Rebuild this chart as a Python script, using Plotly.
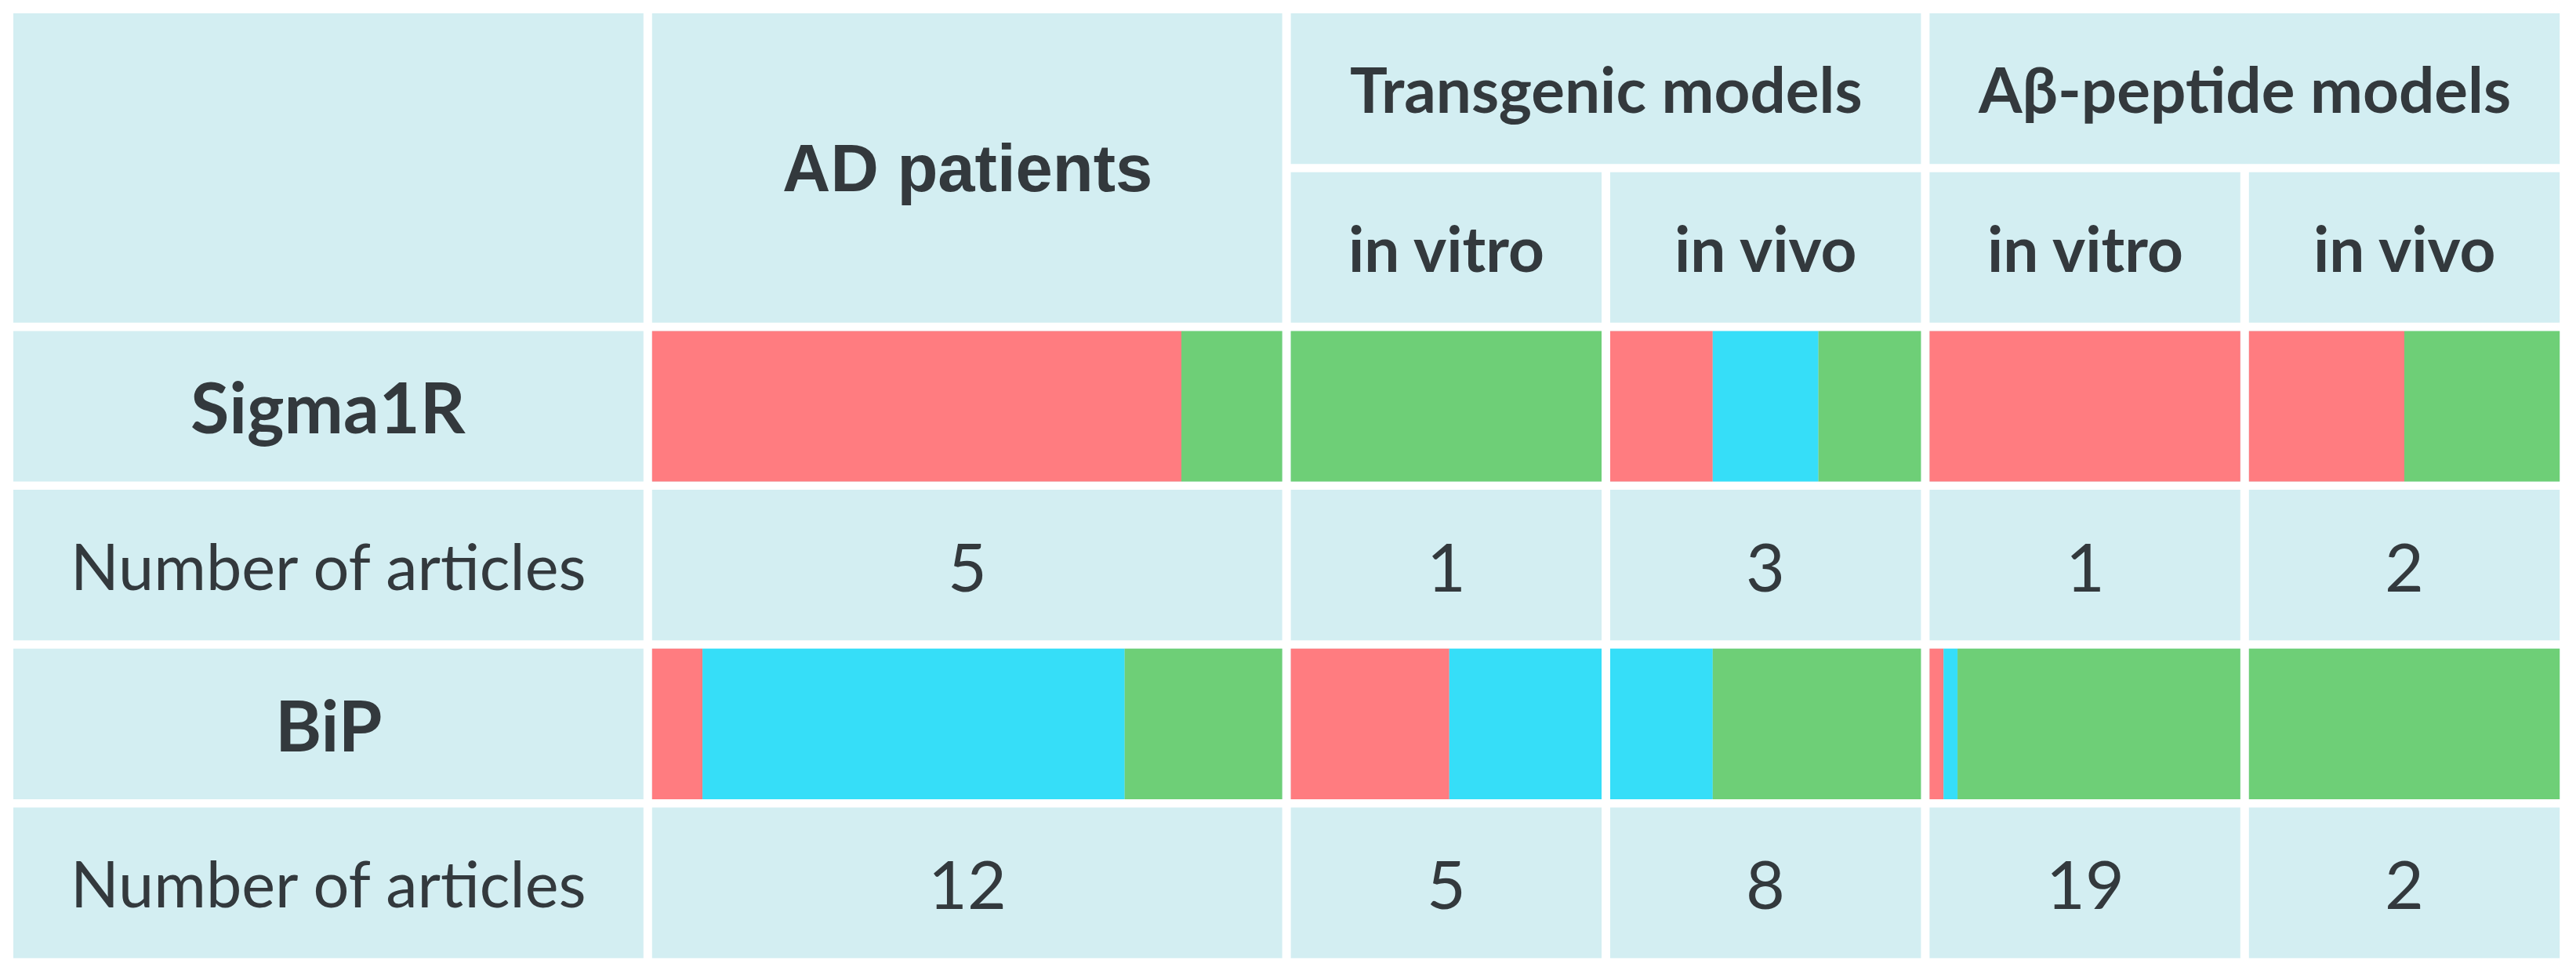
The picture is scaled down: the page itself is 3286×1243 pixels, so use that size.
import plotly.graph_objects as go

# ---------------- data ----------------
sub_columns = ["AD patients", "in vitro", "in vivo", "in vitro", "in vivo"]
model_groups = ["Transgenic models", "Aβ-peptide models"]
proteins = ["Sigma1R", "BiP"]
count_label = "Number of articles"

# share of findings per column (percent): decreased / unchanged / increased
sigma_red = [84, 0, 33, 100, 50]
sigma_blue = [0, 0, 34, 0, 0]
sigma_green = [16, 100, 33, 0, 50]
bip_red = [8, 51, 0, 4.5, 0]
bip_blue = [67, 49, 33, 4.5, 0]
bip_green = [25, 0, 67, 91, 100]

sigma_articles = [5, 1, 3, 1, 2]
bip_articles = [12, 5, 8, 19, 2]

# ---------------- layout / style ----------------
W, H = 3286, 1243
X0, UX, GX = 17, 407.4, 0.027      # grid origin, unit, gap (units)
Y0, UY, GY = 17, 202.7, 0.052

CELL = "#D3EEF2"
RED = "#FF7C80"
BLUE = "#36DEF8"
GREEN = "#6ECF77"
TXT = "#33393D"

col_start = [2, 4, 5, 6, 7]
col_span = [2, 1, 1, 1, 1]


def cx(c0, span):
    return c0 + (span - GX) / 2


def cy(r0, span):
    return r0 + (span - GY) / 2


# background cells (col0, colspan, row0, rowspan)
cells = [(0, 2, 0, 2), (2, 2, 0, 2), (4, 2, 0, 1), (6, 2, 0, 1)]
cells += [(c, 1, 1, 1) for c in (4, 5, 6, 7)]
for r in range(2, 6):
    cells.append((0, 2, r, 1))
    for c0, sp in zip(col_start, col_span):
        cells.append((c0, sp, r, 1))

fig = go.Figure()
fig.add_trace(go.Bar(
    orientation="h",
    y=[cy(r0, rs) for (c0, cs, r0, rs) in cells],
    x=[cs - GX for (c0, cs, r0, rs) in cells],
    base=[c0 for (c0, cs, r0, rs) in cells],
    width=[rs - GY for (c0, cs, r0, rs) in cells],
    marker=dict(color=CELL, line=dict(width=0)),
    showlegend=False, hoverinfo="skip",
))


def add_stack(row, series):
    cum = [0.0] * len(col_start)
    for vals, color in series:
        widths = [sp - GX for sp in col_span]
        fig.add_trace(go.Bar(
            orientation="h",
            y=[cy(row, 1)] * len(vals),
            x=[v / 100 * w for v, w in zip(vals, widths)],
            base=[c0 + cu / 100 * w for c0, cu, w in zip(col_start, cum, widths)],
            width=1 - GY,
            marker=dict(color=color, line=dict(width=0)),
            showlegend=False, hoverinfo="skip",
        ))
        cum = [a + b for a, b in zip(cum, vals)]


add_stack(2, [(sigma_red, RED), (sigma_blue, BLUE), (sigma_green, GREEN)])
add_stack(4, [(bip_red, RED), (bip_blue, BLUE), (bip_green, GREEN)])

ann = []


def text(x, y, s, size, bold=False, family="Lato"):
    ann.append(dict(x=x, y=y, xref="x", yref="y", text=s, showarrow=False,
                    xanchor="center", yanchor="middle",
                    font=dict(family=family, size=size, color=TXT,
                              weight="bold" if bold else "normal")))


text(cx(2, 2), cy(0, 2), "<b>" + sub_columns[0] + "</b>", 85, True, "Liberation Sans")
text(cx(4, 2), cy(0, 1), "<b>" + model_groups[0] + "</b>", 80, True)
text(cx(6, 2), cy(0, 1), "<b>" + model_groups[1] + "</b>", 80, True)
for c0, name in zip(col_start[1:], sub_columns[1:]):
    text(cx(c0, 1), cy(1, 1), "<b>" + name + "</b>", 80, True)

text(cx(0, 2), cy(2, 1), "<b>" + proteins[0] + "</b>", 90, True)
text(cx(0, 2), cy(4, 1), "<b>" + proteins[1] + "</b>", 90, True)
text(cx(0, 2), cy(3, 1), count_label, 81)
text(cx(0, 2), cy(5, 1), count_label, 81)
for c0, sp, n in zip(col_start, col_span, sigma_articles):
    text(cx(c0, sp), cy(3, 1), str(n), 86)
for c0, sp, n in zip(col_start, col_span, bip_articles):
    text(cx(c0, sp), cy(5, 1), str(n), 86)

fig.update_layout(
    width=W, height=H,
    margin=dict(l=0, r=0, t=0, b=0),
    paper_bgcolor="white", plot_bgcolor="white",
    barmode="overlay",
    showlegend=False,
    hovermode=False,
    annotations=ann,
    xaxis=dict(range=[-X0 / UX, (W - X0) / UX], visible=False, fixedrange=True),
    yaxis=dict(range=[(H - Y0) / UY, -Y0 / UY], visible=False, fixedrange=True),
)

fig.write_html("out.html", config={"displayModeBar": False},
               post_script="document.body.style.margin='0';")
